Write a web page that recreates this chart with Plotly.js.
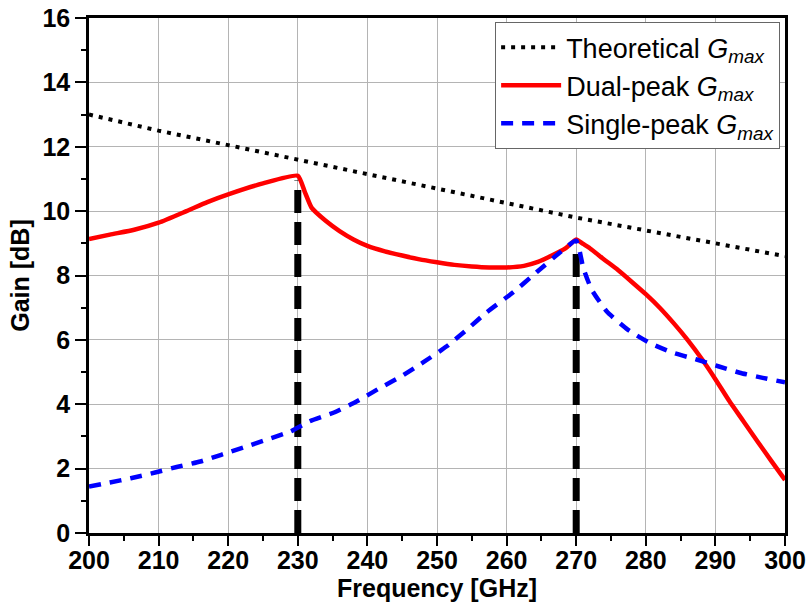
<!DOCTYPE html>
<html><head><meta charset="utf-8">
<script src="https://cdn.plot.ly/plotly-3.0.1.min.js"></script>
<style>body{margin:0;background:#fff}#chart{width:809px;height:604px}</style>
</head><body><div id="chart"></div>
<script>
const theoFreq = [200,210,220,230,240,250,260,270,280,290,300];
const theoGain = [13.0,12.5,12.05,11.6,11.15,10.7,10.25,9.8,9.4,9.0,8.6];

const dualFreq = [200,203,206.5,210,214,217,220,225,230,231,232,234,236,238,240,242.5,245,247.5,250,252.5,255,257.5,260,262.5,264.5,266.5,268.5,270,271,272,274,276,278,280,282,284,286,288,290,292,294,296,298,300];
const dualGain = [9.13,9.27,9.42,9.64,10.0,10.28,10.52,10.86,11.1,10.6,10.1,9.7,9.38,9.12,8.92,8.75,8.62,8.5,8.41,8.33,8.28,8.25,8.25,8.3,8.42,8.62,8.85,9.12,8.98,8.84,8.5,8.17,7.8,7.42,7.0,6.52,6.0,5.42,4.78,4.1,3.48,2.86,2.25,1.65];

const singleFreq = [200,203,206,209.5,212.6,216,219,222.4,225.5,229,231.7,235.3,238.5,241.6,244.9,248,251.4,254.3,257.1,260.9,264.3,267.7,270,271,272.2,274.4,277.4,280.6,283.9,287.3,290.4,293.5,296.8,300];
const singleGain = [1.44,1.57,1.7,1.88,2.05,2.22,2.43,2.67,2.9,3.16,3.47,3.75,4.09,4.48,4.87,5.3,5.8,6.32,6.85,7.47,8.1,8.72,9.08,8.25,7.57,6.88,6.32,5.9,5.6,5.39,5.18,4.98,4.82,4.68];

const markerFreq = [230,270];
const markerPeak = [10.95,8.95];

const traces = [];
markerFreq.forEach((f,i)=>{
  traces.push({x:[f,f], y:[0,markerPeak[i]], mode:'lines', showlegend:false, hoverinfo:'skip',
    line:{color:'#000', width:7, dash:'23px,9px'}});
});
traces.push({x:theoFreq, y:theoGain, mode:'lines', name:'Theoretical <i>G</i><sub><i>max</i></sub>',
  line:{color:'#000', width:4, dash:'4px,6px'}});
traces.push({x:dualFreq, y:dualGain, mode:'lines', name:'Dual-peak <i>G</i><sub><i>max</i></sub>',
  line:{color:'#ff0000', width:4.5, shape:'spline', smoothing:0.5}});
traces.push({x:singleFreq, y:singleGain, mode:'lines', name:'Single-peak <i>G</i><sub><i>max</i></sub>',
  line:{color:'#0000ff', width:4.5, dash:'12px,9px', shape:'spline', smoothing:0.5}});

const FAM = 'Liberation Sans, Arial, sans-serif';
const tickFont = {family:FAM, size:25, color:'#000', weight:'bold'};
const layout = {
  width:809, height:604,
  margin:{l:89, r:24, t:18, b:71},
  paper_bgcolor:'#fff', plot_bgcolor:'#fff',
  showlegend:true,
  legend:{x:0.993, y:0.992, xanchor:'right', yanchor:'top', bgcolor:'#fff', bordercolor:'#666', borderwidth:1,
    font:{family:FAM, size:27, color:'#000'}, tracegroupgap:0, itemwidth:60},
  xaxis:{range:[200,300], dtick:10, tick0:200, showgrid:true, gridcolor:'#b4b4b4', gridwidth:1,
    showline:true, linecolor:'#000', linewidth:2.5, mirror:true, ticks:'outside', ticklen:10, tickwidth:2, tickcolor:'#000',
    minor:{dtick:5, ticks:'outside', ticklen:5, tickwidth:2, tickcolor:'#000', showgrid:false},
    tickfont:tickFont, zeroline:false, automargin:false, ticklabelstandoff:-7,
    title:{text:'Frequency [GHz]', font:{family:FAM, size:25, color:'#000', weight:'bold'}, standoff:7}},
  yaxis:{range:[0,16], dtick:2, tick0:0, showgrid:true, gridcolor:'#b4b4b4', gridwidth:1,
    showline:true, linecolor:'#000', linewidth:2.5, mirror:true, ticks:'outside', ticklen:11, tickwidth:2, tickcolor:'#000',
    minor:{dtick:1, ticks:'outside', ticklen:5, tickwidth:2, tickcolor:'#000', showgrid:false},
    tickfont:tickFont, zeroline:false, automargin:false,
    title:{text:'Gain [dB]', font:{family:FAM, size:25, color:'#000', weight:'bold'}, standoff:6}}
};
Plotly.newPlot('chart', traces, layout, {displayModeBar:false});
</script></body></html>
